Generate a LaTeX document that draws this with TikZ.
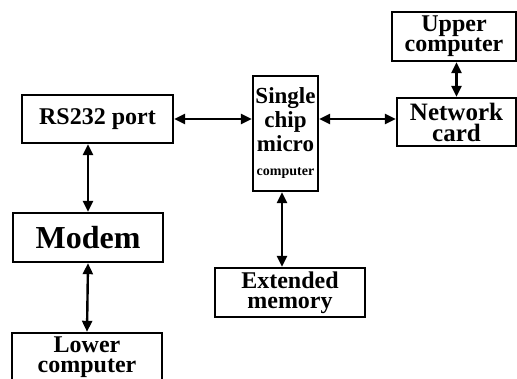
\documentclass[tikz,border=0pt]{standalone}
\usepackage{fontspec}
\setmainfont{Liberation Serif}
\usetikzlibrary{arrows.meta}
\begin{document}
\begin{tikzpicture}[x=1pt,y=-1pt,
  box/.style={draw, line width=2.4pt, inner sep=0pt, align=center,
    font=\bfseries\fontsize{24}{20}\selectfont},
  arr/.style={line width=2.4pt, {Triangle[length=11pt,width=10pt]}-{Triangle[length=11pt,width=10pt]}}]
\useasboundingbox (0,0) rectangle (517,379);
\node[box, minimum width=151, minimum height=48] (rs) at (97.5,119) {RS232 port};
\node[box, minimum width=65, minimum height=115, font=\bfseries\fontsize{23}{24}\selectfont] (chip) at (285.5,133.5)
  {Single\\chip\\micro\\{\fontsize{14}{16}\selectfont computer}};
\node[box, minimum width=119, minimum height=48, font=\bfseries\fontsize{25}{21}\selectfont] (net) at (456.5,122) {Network\\card};
\node[box, minimum width=124, minimum height=49] (up) at (454,36.5) {Upper\\computer};
\node[box, minimum width=150, minimum height=49, font=\bfseries\fontsize{32}{34}\selectfont] (modem) at (88,237.5) {Modem};
\node[box, minimum width=150, minimum height=49] (low) at (87,357.5) {Lower\\computer};
\node[box, minimum width=150, minimum height=49] (ext) at (290,292.5) {Extended\\memory};
\draw[arr] (rs.east) -- (rs.east -| chip.west);
\draw[arr] (chip.east |- rs.east) -- (net.west |- rs.east);
\draw[arr] (up.south -| net.north) -- (net.north);
\draw[arr] (modem.north) -- (modem.north |- rs.south);
\draw[arr] (modem.south) -- (low.north);
\draw[arr] ([xshift=-3.5pt]chip.south) -- ([xshift=-3.5pt]chip.south |- ext.north);
\end{tikzpicture}
\end{document}
